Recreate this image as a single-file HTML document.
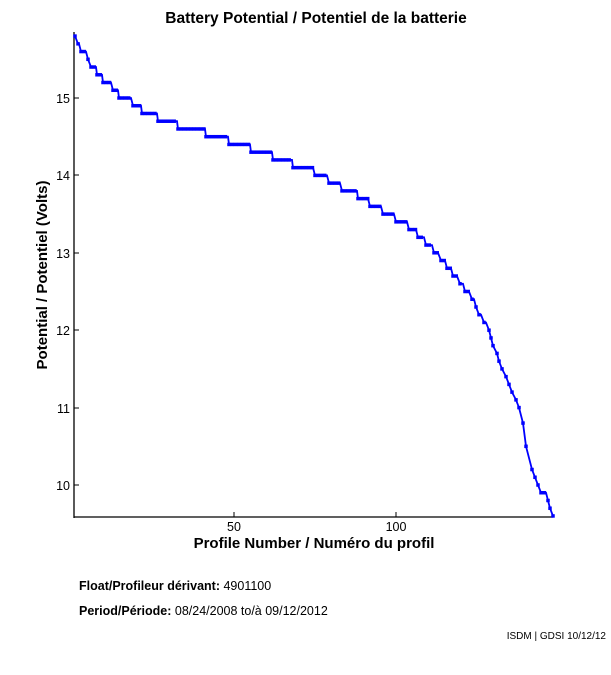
<!DOCTYPE html>
<html><head><meta charset="utf-8"><style>
body{margin:0;background:#fff;width:611px;height:675px;overflow:hidden}
svg{display:block;font-family:"Liberation Sans",Arial,sans-serif}
</style></head><body>
<svg id="s" width="611" height="675" xmlns="http://www.w3.org/2000/svg">
<text x="316" y="23" text-anchor="middle" font-size="15.5" font-weight="bold">Battery Potential / Potentiel de la batterie</text>
<line x1="74" y1="32" x2="74" y2="518" stroke="#000" stroke-width="1.3"/>
<line x1="74" y1="517" x2="553" y2="517" stroke="#000" stroke-width="1.3"/>
<g stroke="#000" stroke-width="1">
<line x1="234" y1="517" x2="234" y2="512"/><line x1="396" y1="517" x2="396" y2="512"/>
<line x1="74" y1="98" x2="79" y2="98"/><line x1="74" y1="175" x2="79" y2="175"/><line x1="74" y1="253" x2="79" y2="253"/><line x1="74" y1="330" x2="79" y2="330"/><line x1="74" y1="408" x2="79" y2="408"/><line x1="74" y1="485" x2="79" y2="485"/>
</g>
<g font-size="12.5" text-anchor="end">
<text x="70" y="103">15</text><text x="70" y="180">14</text><text x="70" y="258">13</text><text x="70" y="335">12</text><text x="70" y="413">11</text><text x="70" y="490">10</text>
</g>
<g font-size="12.5" text-anchor="middle"><text x="234" y="531">50</text><text x="396" y="531">100</text></g>
<text x="314" y="548" text-anchor="middle" font-size="15" font-weight="bold">Profile Number / Numéro du profil</text>
<text transform="translate(47,275) rotate(-90)" text-anchor="middle" font-size="15" font-weight="bold">Potential / Potentiel (Volts)</text>
<text x="79" y="590" font-size="12.5"><tspan font-weight="bold">Float/Profileur dérivant:</tspan> 4901100</text>
<text x="79" y="615" font-size="12.5"><tspan font-weight="bold">Period/Période:</tspan> 08/24/2008  to/à  09/12/2012</text>
<text x="606" y="639" text-anchor="end" font-size="10">ISDM | GDSI 10/12/12</text>
<g id="g"></g>
</svg>
<script>
var d=[[15.8,75,75],[15.7,78,79],[15.6,81,86],[15.5,88,88],[15.4,91,96],[15.3,97,102],[15.2,103,111],[15.1,113,118],[15.0,119,131],[14.9,133,141],[14.8,142,157],[14.7,158,177],[14.6,178,205],[14.5,206,228],[14.4,229,250],[14.3,251,272],[14.2,273,292],[14.1,293,313],[14.0,315,327],[13.9,329,340],[13.8,342,357],[13.7,358,368],[13.6,370,381],[13.5,383,394],[13.4,396,407],[13.3,409,416],[13.2,418,424],[13.1,426,432],[13.0,434,438],[12.9,441,445],[12.8,447,451],[12.7,453,457],[12.6,460,463],[12.5,465,469],[12.4,472,474],[12.3,476,476],[12.2,479,481],[12.1,484,486],[12.0,489,489],[11.9,491,491],[11.8,493,493],[11.7,497,497],[11.6,499,499],[11.5,502,502],[11.4,506,506],[11.3,509,509],[11.2,512,512],[11.1,516,516],[11.0,519,519],[10.8,523,523],[10.5,526,526],[10.2,532,532],[10.1,535,535],[10.0,538,538],[9.9,541,546],[9.8,548,548],[9.7,550,550],[9.6,553,553]];
var pts=[],mk="";
d.forEach(function(s){var y=485-(s[0]-10)*77.4;pts.push(s[1]+","+y.toFixed(1));pts.push(s[2]+","+y.toFixed(1));
for(var x=s[1];x<=s[2]+0.1;x+=3.24){mk+='<rect x="'+(x-1.75)+'" y="'+(y-1.75)+'" width="3.5" height="3.5" fill="#0000ff"/>';}
});
document.getElementById("g").innerHTML='<polyline points="'+pts.join(" ")+'" fill="none" stroke="#0000ff" stroke-width="1.8"/>'+mk;
</script>
</body></html>
